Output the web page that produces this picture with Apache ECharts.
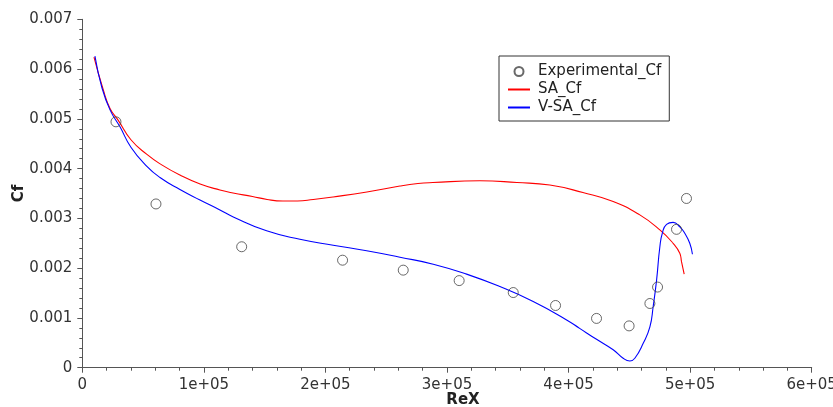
<!DOCTYPE html>
<html>
<head>
<meta charset="utf-8">
<script src="https://cdn.jsdelivr.net/npm/echarts@6/dist/echarts.min.js"></script>
<style>
  html, body { margin: 0; padding: 0; background: #fff; }
  #chart { width: 833px; height: 407px; }
</style>
</head>
<body>
<div id="chart"></div>
<script>
// Skin-friction coefficient along the plate vs. local Reynolds number
const expX = [27700, 60600, 131100, 214100, 264000, 310000, 354500, 389300, 423000, 449800, 466900, 473200, 488800, 497000];
const expY = [0.00494, 0.00329, 0.00243, 0.00216, 0.00196, 0.00175, 0.00151, 0.00125, 0.00099, 0.00084, 0.00129, 0.00162, 0.00278, 0.00340];

const saX = [9600, 17300, 22800, 29600, 40000, 52900, 65000, 80300, 96900, 113200, 124000, 140000, 152000, 165000, 177000, 190000, 206300, 234100, 261300, 276100, 288400, 327100, 357500, 384600, 411800, 436700, 458600, 475100, 486000, 491500, 492900, 495100];
const saY = [0.00624, 0.00558, 0.00521, 0.00497, 0.00458, 0.00429, 0.00408, 0.00387, 0.00369, 0.00357, 0.00351, 0.00344, 0.00338, 0.00335, 0.00335, 0.00338, 0.00343, 0.00353, 0.00365, 0.00370, 0.00372, 0.003755, 0.00372, 0.00367, 0.00352, 0.00334, 0.00307, 0.00277, 0.00250, 0.00230, 0.00213, 0.00188];

const vsaX = [10400, 16000, 22800, 31000, 40000, 52900, 63900, 80300, 96800, 113200, 124200, 151600, 179000, 206400, 233900, 261300, 288700, 316100, 343500, 370900, 398400, 409100, 423000, 436700, 444900, 450400, 454500, 461400, 466900, 469600, 472400, 475100, 477300, 480600, 486000, 491500, 495600, 499700, 501900];
const vsaY = [0.00626, 0.00564, 0.00518, 0.00484, 0.00443, 0.00405, 0.00382, 0.00358, 0.00337, 0.00317, 0.00303, 0.00275, 0.00258, 0.00246, 0.00235, 0.00222, 0.00208, 0.00188, 0.00163, 0.00133, 0.00096, 0.00079, 0.00057, 0.00036, 0.00019, 0.000135, 0.00019, 0.00049, 0.00082, 0.00123, 0.00176, 0.00243, 0.00272, 0.00288, 0.00292, 0.00283, 0.00270, 0.00250, 0.00228];

const xTicks = ['0', '1e+05', '2e+05', '3e+05', '4e+05', '5e+05', '6e+05'];
const yTicks = ['0', '0.001', '0.002', '0.003', '0.004', '0.005', '0.006', '0.007'];

const pairs = (xs, ys) => xs.map((x, i) => [x, ys[i]]);

const FONT = 'DejaVu Sans';
const axisColor = '#555';
const labelColor = '#333';
const SA_COLOR = '#ff0000';
const VSA_COLOR = '#0000ff';

const chart = echarts.init(document.getElementById('chart'), null, { renderer: 'canvas' });

chart.setOption({
  animation: false,
  backgroundColor: '#fff',
  textStyle: { fontFamily: FONT },
  grid: {
    left: 82.3, right: 21.3, top: 19.3, bottom: 39.3,
    containLabel: false,
    outerBoundsMode: 'none'
  },
  legend: {
    orient: 'vertical',
    left: 499,
    top: 56,
    padding: [8, 8, 6, 8],
    itemGap: 3,
    itemWidth: 22,
    itemHeight: 9,
    borderColor: '#333',
    borderWidth: 1,
    textStyle: { fontFamily: FONT, fontSize: 15, color: '#222', padding: [0, 0, 0, 3] },
    data: [
      { name: 'Experimental_Cf' },
      // curve keys: plain line, the marker dot is hidden
      { name: 'SA_Cf', itemStyle: { opacity: 0 } },
      { name: 'V-SA_Cf', itemStyle: { opacity: 0 } }
    ]
  },
  xAxis: {
    type: 'value',
    min: 0,
    max: 600000,
    interval: 100000,
    name: 'ReX',
    nameLocation: 'middle',
    nameGap: 25,
    nameMoveOverlap: false,
    nameTextStyle: { fontFamily: FONT, fontSize: 15, fontWeight: 'bold', color: '#222', padding: [0, 0, 0, 32] },
    axisLine: { show: true, lineStyle: { color: axisColor, width: 1 } },
    axisTick: { show: true, length: 5, lineStyle: { color: axisColor } },
    minorTick: { show: true, splitNumber: 5, length: 3, lineStyle: { color: axisColor } },
    splitLine: { show: false },
    axisLabel: {
      margin: 10,
      fontFamily: FONT, fontSize: 15, color: labelColor,
      formatter: (v) => xTicks[Math.round(v / 100000)]
    }
  },
  yAxis: {
    type: 'value',
    min: 0,
    max: 0.007,
    interval: 0.001,
    name: 'Cf',
    nameLocation: 'middle',
    nameGap: 56,
    nameMoveOverlap: false,
    nameTextStyle: { fontFamily: FONT, fontSize: 15, fontWeight: 'bold', color: '#222' },
    axisLine: { show: true, lineStyle: { color: axisColor, width: 1 } },
    axisTick: { show: true, length: 5, lineStyle: { color: axisColor } },
    minorTick: { show: true, splitNumber: 5, length: 3, lineStyle: { color: axisColor } },
    splitLine: { show: false },
    axisLabel: {
      margin: 10,
      fontFamily: FONT, fontSize: 15, color: labelColor,
      formatter: (v) => yTicks[Math.round(v / 0.001)]
    }
  },
  series: [
    {
      name: 'SA_Cf',
      type: 'line',
      data: pairs(saX, saY),
      symbol: 'none',
      smooth: 0.5,
      lineStyle: { color: SA_COLOR, width: 1.1 },
      itemStyle: { color: SA_COLOR },
      z: 2
    },
    {
      name: 'V-SA_Cf',
      type: 'line',
      data: pairs(vsaX, vsaY),
      symbol: 'none',
      smooth: 0.5,
      lineStyle: { color: VSA_COLOR, width: 1.1 },
      itemStyle: { color: VSA_COLOR },
      z: 3
    },
    {
      name: 'Experimental_Cf',
      type: 'scatter',
      data: pairs(expX, expY),
      symbol: 'circle',
      symbolSize: 10,
      itemStyle: { color: 'transparent', borderColor: '#444', borderWidth: 1 },
      z: 4
    }
  ]
});
</script>
</body>
</html>
